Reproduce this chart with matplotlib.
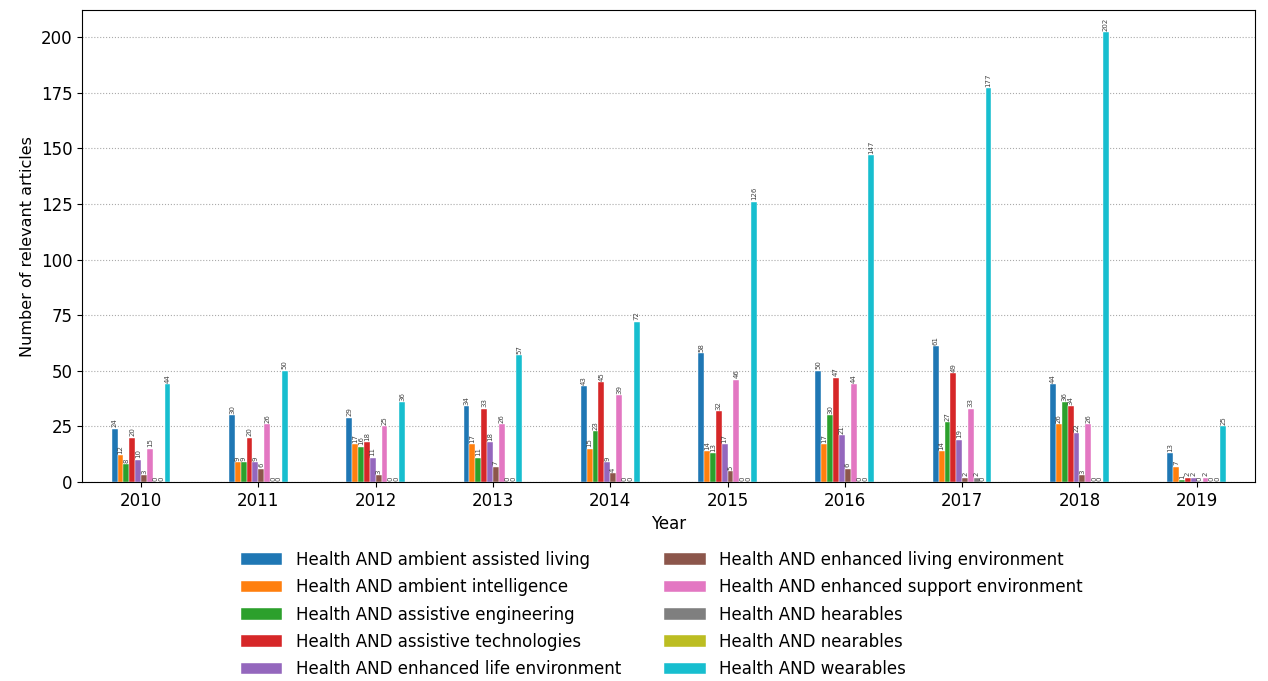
import numpy as np
import pandas as pd
import matplotlib
matplotlib.use('Agg')
import matplotlib.pyplot as plt

years = ['2010', '2011', '2012', '2013', '2014', '2015', '2016', '2017', '2018', '2019']
series = ['Health AND ambient assisted living', 'Health AND ambient intelligence',
          'Health AND assistive engineering', 'Health AND assistive technologies',
          'Health AND enhanced life environment', 'Health AND enhanced living environment',
          'Health AND enhanced support environment', 'Health AND hearables',
          'Health AND nearables', 'Health AND wearables']

ambient_assisted = [24, 30, 29, 34, 43, 58, 50, 61, 44, 13]
ambient_intel = [12, 9, 17, 17, 15, 14, 17, 14, 26, 7]
assistive_eng = [8, 9, 16, 11, 23, 13, 30, 27, 36, 1]
assistive_tech = [20, 20, 18, 33, 45, 32, 47, 49, 34, 2]
enh_life = [10, 9, 11, 18, 9, 17, 21, 19, 22, 2]
enh_living = [3, 6, 3, 7, 4, 5, 6, 2, 3, 0]
enh_support = [15, 26, 25, 26, 39, 46, 44, 33, 26, 2]
hearables = [0, 0, 0, 0, 0, 0, 0, 2, 0, 0]
nearables = [0, 0, 0, 0, 0, 0, 0, 0, 0, 0]
wearables = [44, 50, 36, 57, 72, 126, 147, 177, 202, 25]

df = pd.DataFrame({s: v for s, v in zip(series, [ambient_assisted, ambient_intel, assistive_eng,
                                                   assistive_tech, enh_life, enh_living, enh_support,
                                                   hearables, nearables, wearables])}, index=years)

fig = plt.figure(figsize=(12.68, 6.81), dpi=100)
ax = fig.add_axes([0.065, 0.292, 0.925, 0.693])
df.plot(kind='bar', ax=ax, width=0.5, edgecolor='white', linewidth=0.3, legend=False)

# value labels on top of every bar
for c in ax.containers:
    ax.bar_label(c, labels=[str(int(v)) for v in c.datavalues], rotation=90, fontsize=5,
                 padding=1, color='#444444')

ax.set_xlim(-0.5, 9.5)
ax.set_ylim(0, 212)
ax.set_xticklabels(years, rotation=0, fontsize=12)
ax.tick_params(axis='y', labelsize=12)
ax.yaxis.grid(True, linestyle=':', color='#aaaaaa')
ax.set_axisbelow(True)
ax.set_xlabel('Year', fontsize=12)
ax.set_ylabel('Number of relevant articles', fontsize=11.5)

handles, labels = ax.get_legend_handles_labels()
fig.legend(handles, labels, loc='lower center', bbox_to_anchor=(0.522, -0.018), ncol=2,
           frameon=False, fontsize=12, columnspacing=2.6, handlelength=2.5, labelspacing=0.56)

plt.savefig('out.png')
